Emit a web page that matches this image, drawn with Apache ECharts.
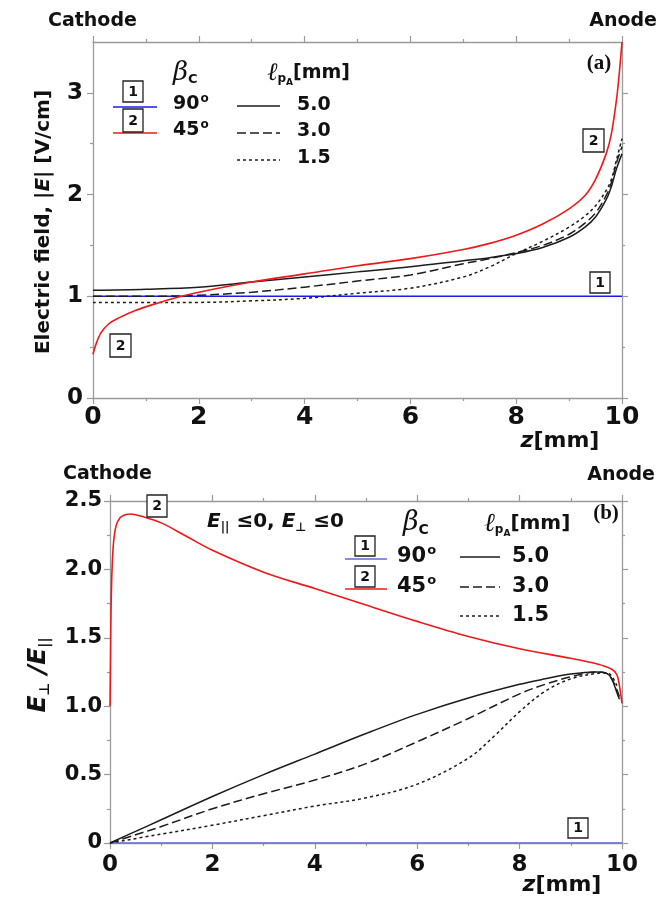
<!DOCTYPE html>
<html><head><meta charset="utf-8">
<script src="https://cdn.jsdelivr.net/npm/echarts@6/dist/echarts.min.js"></script>
<style>html,body{margin:0;padding:0;background:#fff}#c{width:669px;height:897px}</style>
</head><body><div id="c"></div>
<script>
// ---------- Panel (a): electric field |E| [V/cm] vs z [mm] ----------
const zRedA   = [0, 0.05, 0.15, 0.3, 0.5, 0.8, 1.2, 1.6, 2, 3, 4, 5, 6, 7, 7.5, 8, 8.5, 9, 9.3, 9.5, 9.7, 9.8, 9.9, 9.95, 10];
const redA    = [0.43, 0.52, 0.64, 0.73, 0.79, 0.86, 0.93, 0.99, 1.04, 1.14, 1.22, 1.30, 1.37, 1.46, 1.52, 1.60, 1.71, 1.86, 1.99, 2.15, 2.40, 2.60, 2.95, 3.20, 3.50];
const zBlkA   = [0, 1, 2, 3, 4, 5, 6, 7, 7.5, 8, 8.5, 9, 9.3, 9.5, 9.7, 9.8, 9.9, 10];
const solidA  = [1.06, 1.07, 1.09, 1.14, 1.19, 1.24, 1.29, 1.35, 1.38, 1.42, 1.48, 1.58, 1.68, 1.78, 1.95, 2.08, 2.26, 2.40];
const dashA   = [1.00, 1.00, 1.01, 1.04, 1.09, 1.15, 1.21, 1.32, 1.37, 1.43, 1.50, 1.61, 1.72, 1.82, 1.99, 2.12, 2.32, 2.47];
const dotA    = [0.94, 0.94, 0.94, 0.955, 0.98, 1.03, 1.08, 1.19, 1.29, 1.42, 1.54, 1.68, 1.79, 1.89, 2.04, 2.15, 2.35, 2.55];
const zBlueA  = [0, 10];
const blueA   = [1, 1];

// ---------- Panel (b): E_perp / E_par vs z [mm] ----------
const zRedB   = [0, 0.01, 0.02, 0.04, 0.07, 0.12, 0.2, 0.3, 0.4, 0.6, 1, 1.5, 2, 3, 4, 5, 6, 7, 8, 9, 9.5, 9.8, 9.9, 9.95, 10];
const redB    = [1.00, 1.35, 1.70, 2.00, 2.20, 2.32, 2.38, 2.40, 2.405, 2.39, 2.34, 2.24, 2.14, 1.98, 1.86, 1.74, 1.62, 1.51, 1.42, 1.35, 1.31, 1.27, 1.23, 1.15, 1.02];
const zBlkB   = [0, 0.5, 1, 2, 3, 4, 5, 6, 7, 8, 8.5, 9, 9.5, 9.7, 9.8, 9.9, 9.95];
const solidB  = [0, 0.085, 0.17, 0.34, 0.50, 0.65, 0.80, 0.94, 1.06, 1.16, 1.20, 1.235, 1.25, 1.24, 1.20, 1.10, 1.05];
const dashB   = [0, 0.06, 0.12, 0.25, 0.36, 0.46, 0.58, 0.74, 0.91, 1.09, 1.16, 1.215, 1.25, 1.24, 1.20, 1.12, 1.07];
const zDotB   = [0, 1, 2, 3, 4, 5, 6, 7, 7.5, 8, 8.5, 9, 9.5, 9.7, 9.8, 9.9];
const dotB    = [0, 0.065, 0.13, 0.20, 0.27, 0.33, 0.43, 0.62, 0.78, 0.96, 1.11, 1.20, 1.24, 1.245, 1.22, 1.15];
const zBlueB  = [0, 10];
const blueB   = [0, 0];

// ---------- axis ticks ----------
const yTicksA  = [0, 1, 2, 3];
const yMinorA  = [0.5, 1.5, 2.5];

const pair = (xs, ys) => xs.map((x, i) => [x, ys[i]]);
const AX = '#9a9a9a';
const FONT = 'DejaVu Sans';

function xAxis(grid, pos, showLabel, fs, margin) {
  return {
    type: 'value', gridIndex: grid, position: pos, min: 0, max: 10, interval: 2,
    axisLine: { show: true, onZero: false, lineStyle: { color: AX, width: 1.3 } },
    axisTick: { show: true, inside: false, length: 6, lineStyle: { color: AX, width: 1.2 } },
    minorTick: { show: true, splitNumber: 2, length: 3, lineStyle: { color: AX, width: 1.2 } },
    splitLine: { show: false },
    axisLabel: { show: showLabel, margin: margin, fontFamily: FONT, fontWeight: 'bold', fontSize: fs, color: '#111',
      formatter: v => String(v) }
  };
}
function yAxisA(pos, major) {
  return {
    type: 'value', gridIndex: 0, position: pos, min: 0, max: 3.5,
    axisLine: { show: major, onZero: false, lineStyle: { color: AX, width: 1.3 } },
    axisTick: { show: true, inside: false, length: major ? 6 : 3, customValues: major ? yTicksA : yMinorA, lineStyle: { color: AX, width: 1.2 } },
    splitLine: { show: false },
    axisLabel: { show: major && pos === 'left', customValues: yTicksA, margin: 10, fontFamily: FONT, fontWeight: 'bold', fontSize: 23, color: '#111' }
  };
}
function yAxisB(pos) {
  return {
    type: 'value', gridIndex: 1, position: pos, min: 0, max: 2.5, interval: 0.5,
    axisLine: { show: true, onZero: false, lineStyle: { color: AX, width: 1.3 } },
    axisTick: { show: true, inside: false, length: 6, lineStyle: { color: AX, width: 1.2 } },
    minorTick: { show: true, splitNumber: 2, length: 3, lineStyle: { color: AX, width: 1.2 } },
    splitLine: { show: false },
    axisLabel: { show: pos === 'left', margin: 8, fontFamily: FONT, fontWeight: 'bold', fontSize: 21, color: '#111',
      formatter: v => (v === 0 ? '0' : v.toFixed(1)) }
  };
}

function line(xi, yi, data, color, type, w) {
  return {
    type: 'line', xAxisIndex: xi, yAxisIndex: yi, data: data, showSymbol: false, symbol: 'none',
    smooth: 0.35, silent: true, animation: false,
    lineStyle: { color: color, width: w || 1.5, type: type || 'solid' }
  };
}

const BLK = '#1c1c1c', RED = '#f01818', BLUE = '#1a1af0', BLUEB = '#6464e0';
const DASH = [9, 4], DOT = [3, 3];

// ---------- annotation helpers ----------
function txt(x, y, text, style, extra) {
  return Object.assign({ type: 'text', x: x, y: y, silent: true,
    style: Object.assign({ text: text, fill: '#111', fontFamily: FONT, fontWeight: 'bold', fontSize: 19, verticalAlign: 'middle', align: 'left' }, style) }, extra || {});
}
function box(x, y, w, h, label) {
  return [
    { type: 'rect', shape: { x: x, y: y, width: w, height: h }, silent: true, z: 50,
      style: { fill: '#fff', stroke: '#222', lineWidth: 1.3 } },
    { type: 'text', x: x + w / 2, y: y + h / 2 + 0.5, silent: true, z: 51,
      style: { text: label, fill: '#111', fontFamily: FONT, fontWeight: 'bold', fontSize: 14, align: 'center', verticalAlign: 'middle' } }
  ];
}
function seg(x1, x2, y, color, dash) {
  return { type: 'line', shape: { x1: x1, y1: y, x2: x2, y2: y }, silent: true, z: 50,
    style: { stroke: color, lineWidth: 1.5, lineDash: dash || null } };
}
const betaRich = fs => ({
  b: { fontFamily: 'DejaVu Serif', fontStyle: 'italic', fontSize: fs, fill: '#111', fontWeight: 'normal' },
  s: { fontFamily: FONT, fontWeight: 'bold', fontSize: Math.round(fs * 0.5), fill: '#111', padding: [Math.round(fs * 0.55), 0, 0, 0] }
});
const ellRich = fs => ({
  l: { fontFamily: 'DejaVu Serif', fontStyle: 'italic', fontSize: fs + 6, fill: '#111' },
  p: { fontFamily: FONT, fontWeight: 'bold', fontSize: Math.round(fs * 0.62), fill: '#111', padding: [Math.round(fs * 0.6), 0, 0, 0] },
  a: { fontFamily: FONT, fontWeight: 'bold', fontSize: Math.round(fs * 0.45), fill: '#111', padding: [Math.round(fs * 1.0), 0, 0, 0] },
  m: { fontFamily: FONT, fontWeight: 'bold', fontSize: fs, fill: '#111' }
});
const degRich = fs => ({
  n: { fontFamily: FONT, fontWeight: 'bold', fontSize: fs, fill: '#111' },
  o: { fontFamily: FONT, fontWeight: 'bold', fontSize: Math.round(fs * 0.62), fill: '#111', padding: [0, 0, Math.round(fs * 0.6), 1] }
});

const graphic = [].concat(
  // panel (a)
  [txt(48, 21, 'Cathode', { fontSize: 19 }), txt(657, 21, 'Anode', { fontSize: 19, align: 'right' }),
   txt(599, 64, '(a)', { fontFamily: 'Liberation Serif', fontSize: 21, align: 'center' }),
   txt(44, 222, '', { align: 'center', text: '{t|Electric field, |}{i|E}{t|| [V/cm]}',
     rich: { t: { fontFamily: FONT, fontWeight: 'bold', fontSize: 20, fill: '#111' }, i: { fontFamily: FONT, fontWeight: 'bold', fontStyle: 'italic', fontSize: 20, fill: '#111' } } },
     { rotation: Math.PI / 2 }),
   txt(560, 441, '', { align: 'center', text: '{i|z}{t|[mm]}',
     rich: { t: { fontFamily: FONT, fontWeight: 'bold', fontSize: 22, fill: '#111' }, i: { fontFamily: FONT, fontWeight: 'bold', fontStyle: 'italic', fontSize: 22, fill: '#111' } } }),
   txt(173, 73, '', { text: '{b|β}{s|C}', rich: betaRich(26) }),
   seg(113, 157, 107, BLUE), seg(113, 157, 133, RED),
   txt(173, 104, '', { text: '{n|90}{o|o}', rich: degRich(19) }),
   txt(173, 130, '', { text: '{n|45}{o|o}', rich: degRich(19) }),
   seg(237, 280, 106, BLK), seg(237, 280, 133, BLK, DASH), seg(237, 280, 160, BLK, DOT),
   txt(297, 105, '5.0'), txt(297, 131, '3.0'), txt(297, 158, '1.5'),
   txt(267, 73, '', { text: '{l|ℓ}{p|p}{a|A}{m|[mm]}', rich: ellRich(19) })
  ],
  box(123, 81, 20, 21, '1'), box(123, 109, 20, 23, '2'),
  box(583, 129, 21, 23, '2'), box(590, 272, 20, 21, '1'), box(110, 334, 21, 23, '2'),
  // panel (b)
  [txt(63, 474, 'Cathode', { fontSize: 19 }), txt(655, 475, 'Anode', { fontSize: 19, align: 'right' }),
   txt(606, 514, '(b)', { fontFamily: 'Liberation Serif', fontSize: 21, align: 'center' }),
   txt(38, 675, '', { align: 'center', text: '{i|E}{s|⊥}{t| /}{i|E}{s|||}',
     rich: { i: { fontFamily: FONT, fontWeight: 'bold', fontStyle: 'italic', fontSize: 25, fill: '#111' },
             t: { fontFamily: FONT, fontWeight: 'bold', fontStyle: 'italic', fontSize: 25, fill: '#111' },
             s: { fontFamily: FONT, fontWeight: 'bold', fontSize: 14, fill: '#111', padding: [14, 0, 0, 0] } } },
     { rotation: Math.PI / 2 }),
   txt(562, 885, '', { align: 'center', text: '{i|z}{t|[mm]}',
     rich: { t: { fontFamily: FONT, fontWeight: 'bold', fontSize: 22, fill: '#111' }, i: { fontFamily: FONT, fontWeight: 'bold', fontStyle: 'italic', fontSize: 22, fill: '#111' } } }),
   txt(207, 522, '', { text: '{i|E}{s|||}{t| ≤0, }{i|E}{s|⊥}{t| ≤0}',
     rich: { i: { fontFamily: FONT, fontWeight: 'bold', fontStyle: 'italic', fontSize: 20, fill: '#111' },
             t: { fontFamily: FONT, fontWeight: 'bold', fontSize: 20, fill: '#111' },
             s: { fontFamily: FONT, fontWeight: 'bold', fontSize: 12, fill: '#111', padding: [12, 0, 0, 0] } } }),
   txt(403, 523, '', { text: '{b|β}{s|C}', rich: betaRich(27) }),
   seg(345, 387, 559, BLUEB), seg(345, 387, 589, RED),
   txt(397, 557, '', { text: '{n|90}{o|o}', rich: degRich(21) }),
   txt(397, 587, '', { text: '{n|45}{o|o}', rich: degRich(21) }),
   seg(460, 500, 557, BLK), seg(460, 500, 587, BLK, DASH), seg(460, 500, 616, BLK, DOT),
   txt(512, 557, '5.0', { fontSize: 21 }), txt(512, 587, '3.0', { fontSize: 21 }), txt(512, 616, '1.5', { fontSize: 21 }),
   txt(484, 524, '', { text: '{l|ℓ}{p|p}{a|A}{m|[mm]}', rich: ellRich(20) })
  ],
  box(147, 495, 20, 22, '2'), box(355, 536, 20, 20, '1'), box(355, 566, 20, 21, '2'),
  box(568, 818, 20, 20, '1')
);

const option = {
  animation: false,
  backgroundColor: '#fff',
  grid: [
    { left: 93, top: 42, width: 529, height: 356 },
    { left: 110, top: 501, width: 512, height: 342 }
  ],
  xAxis: [
    xAxis(0, 'bottom', true, 25, 7),
    xAxis(0, 'top', false, 25, 7),
    xAxis(1, 'bottom', true, 23, 11),
    xAxis(1, 'top', false, 23, 11)
  ],
  yAxis: [
    yAxisA('left', true), yAxisA('right', true), yAxisA('left', false), yAxisA('right', false),
    yAxisB('left'), yAxisB('right')
  ],
  series: [
    line(0, 0, pair(zBlueA, blueA), BLUE, 'solid', 1.5),
    line(0, 0, pair(zBlkA, dotA), BLK, DOT, 1.5),
    line(0, 0, pair(zBlkA, dashA), BLK, DASH, 1.5),
    line(0, 0, pair(zBlkA, solidA), BLK, 'solid', 1.5),
    line(0, 0, pair(zRedA, redA), RED, 'solid', 1.6),
    line(2, 4, pair(zBlueB, blueB), BLUEB, 'solid', 1.5),
    line(2, 4, pair(zDotB, dotB), BLK, DOT, 1.5),
    line(2, 4, pair(zBlkB, dashB), BLK, DASH, 1.5),
    line(2, 4, pair(zBlkB, solidB), BLK, 'solid', 1.5),
    line(2, 4, pair(zRedB, redB), RED, 'solid', 1.6)
  ],
  graphic: graphic
};
const chart = echarts.init(document.getElementById('c'), null, { renderer: 'canvas' });
chart.setOption(option);
</script>
</body></html>
